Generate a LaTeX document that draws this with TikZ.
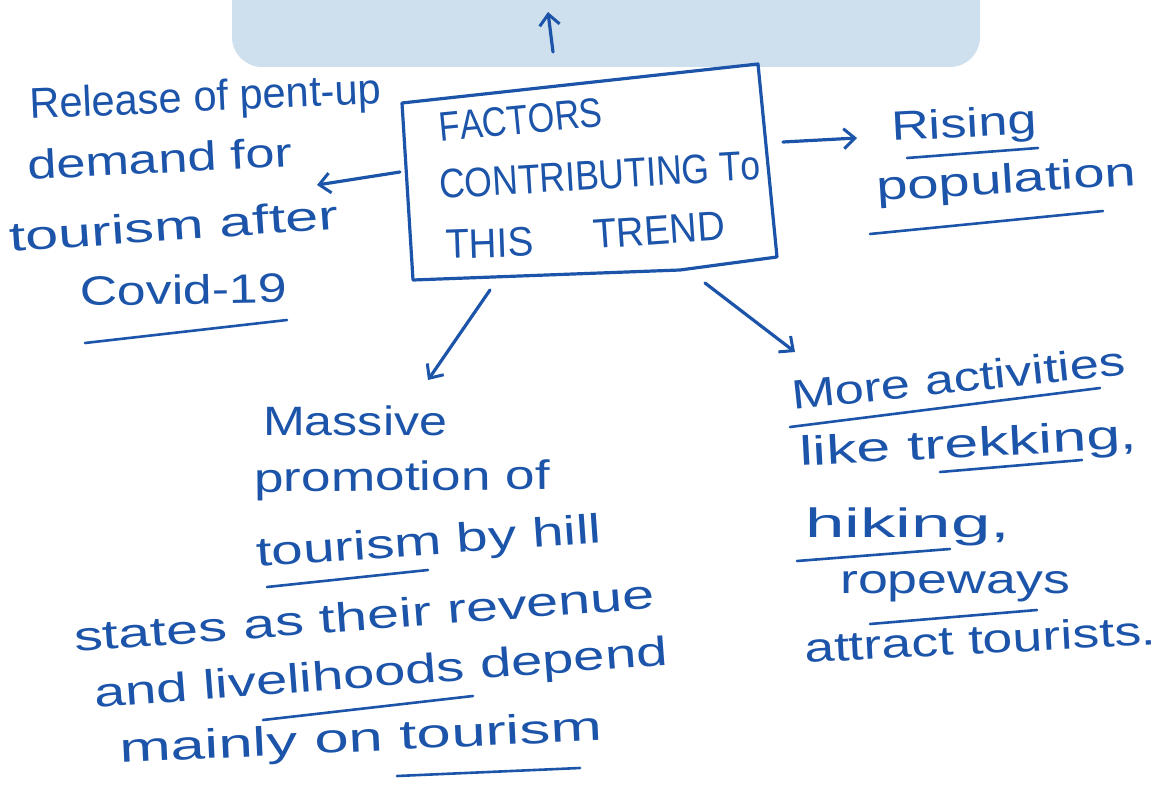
\documentclass[tikz,border=0pt]{standalone}
\usepackage{fontspec}
\setmainfont{Liberation Sans}[Kerning=Off]
\usetikzlibrary{arrows.meta}
\definecolor{ink}{RGB}{28,84,170}
\definecolor{band}{RGB}{206,223,238}
% stretch a line of text to a given width, keeping its height
\newcommand\fitw[2]{\resizebox{#1pt}{\height}{#2}}
% same, and stretch it upwards by a factor as well
\newcommand\tallw[3]{\scalebox{1}[#2]{\resizebox{#1pt}{\height}{#3}}}

\begin{document}
\begin{tikzpicture}[x=1pt,y=-1pt,
  hw/.style={inner sep=0pt, anchor=base west, text=ink, font=\fontsize{41}{46}\selectfont},
  capsline/.style={hw, font=\fontsize{33}{38}\selectfont},
  pen/.style={draw=ink, line width=3.2pt, line cap=round, line join=round},
  tip/.style={pen, -{Straight Barb[length=11pt,width=20pt,line width=3pt]}},
  uline/.style={draw=ink, line width=2.6pt, line cap=round}]
\useasboundingbox (0,0) rectangle (1167,794);
\clip (0,0) rectangle (1167,794);

% light band at the top of the page
\fill[band, rounded corners=30pt] (232,-40) rectangle (980,67);

% central box
\coordinate (bTL) at (402,103);
\coordinate (bTR) at (758,64);
\coordinate (bBR) at (777,257);
\coordinate (bKink) at (680,270);
\coordinate (bBL) at (413,280);
\draw[pen] (bTL) -- (bTR) -- (bBR) -- (bKink) -- (bBL) -- cycle;

\node[capsline, rotate=5.5] (f1) at (440,142) {\tallw{164}{1.25}{FACTORS}};
\node[capsline, rotate=3.5] (f2) at (440,199) {\tallw{322}{1.25}{CONTRIBUTING To}};
\node[capsline, rotate=2] (f3) at (446,259) {\tallw{88}{1.25}{THIS}};
\node[capsline, rotate=4] (f4) at (594,249) {\tallw{132}{1.25}{TREND}};

% left: pent-up demand
\node[hw, rotate=2.5] (l1) at (30,119) {\tallw{352}{1.05}{Release of pent-up}};
\node[hw, rotate=3] (l2) at (28,180) {\fitw{265}{demand for}};
\node[hw, rotate=4] (l3) at (10,252) {\fitw{330}{tourism after}};
\node[hw, rotate=1] (l4) at (80,306) {\fitw{207}{Covid-19}};
\draw[uline] (85,343) -- (287,320);

% right: population
\node[hw, rotate=3] (r1) at (892,141) {\fitw{145}{Rising}};
\node[hw, rotate=3.5] (r2) at (877,201) {\fitw{260}{population}};
\draw[uline] (907,158) -- (1038,148);
\draw[uline] (870,234) -- (1103,211);

% bottom left: promotion by hill states
\node[hw] (m1) at (263,435) {\fitw{184}{Massive}};
\node[hw, rotate=0.5] (m2) at (254,492) {\fitw{296}{promotion of}};
\node[hw, rotate=4] (m3) at (257,567) {\fitw{346}{tourism by hill}};
\node[hw, rotate=4.3] (m4) at (75,652) {\fitw{582}{states as their revenue}};
\node[hw, rotate=4.3] (m5) at (95,708) {\fitw{575}{and livelihoods depend}};
\node[hw, rotate=2.7] (m6) at (120,763) {\fitw{483}{mainly on tourism}};
\draw[uline] (267,587) -- (428,570);
\draw[uline] (263,720) -- (473,696);
\draw[uline] (397,776) -- (580,768);

% bottom right: activities
\node[hw, rotate=6] (a1) at (793,410) {\fitw{335}{More activities}};
\node[hw, rotate=3] (a2) at (800,466) {\fitw{338}{like trekking,}};
\node[hw] (a3) at (805,537) {\fitw{205}{hiking,}};
\node[hw] (a4) at (840,593) {\fitw{230}{ropeways}};
\node[hw, rotate=3] (a5) at (805,663) {\fitw{352}{attract tourists.}};
\draw[uline] (790,427) -- (1100,388);
\draw[uline] (940,472) -- (1082,460);
\draw[uline] (797,561) -- (950,549);
\draw[uline] (870,624) -- (1037,610);

% arrows out of the box
\coordinate (upFrom) at (553,52);
\coordinate (upTo) at (548,12);
\coordinate (lFrom) at (400,172);
\coordinate (lTo) at (317,185);
\coordinate (rFrom) at (783,142);
\coordinate (rTo) at (857,138);
\coordinate (blFrom) at (490,290);
\coordinate (blTo) at (428,380);
\coordinate (brFrom) at (705,283);
\coordinate (brTo) at (795,352);
\draw[tip] (upFrom) -- (upTo);
\draw[tip] (lFrom) -- (lTo);
\draw[tip] (rFrom) -- (rTo);
\draw[tip] (blFrom) -- (blTo);
\draw[tip] (brFrom) -- (brTo);
\end{tikzpicture}
\end{document}
